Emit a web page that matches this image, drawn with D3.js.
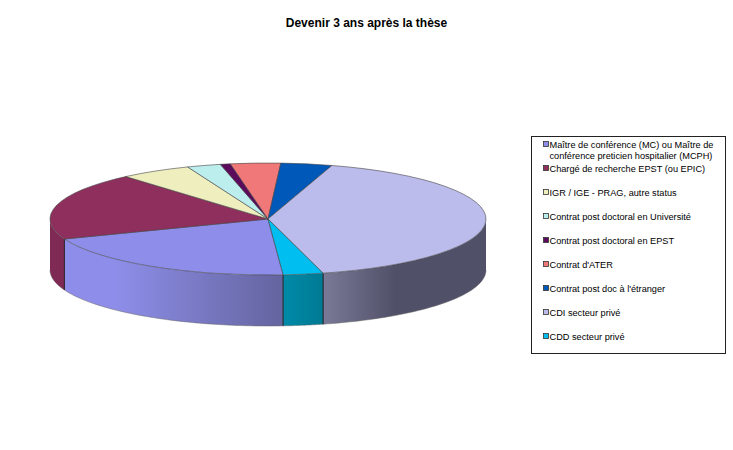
<!DOCTYPE html>
<html><head><meta charset="utf-8">
<script src="https://cdnjs.cloudflare.com/ajax/libs/d3/7.8.5/d3.min.js"></script>
<style>html,body{margin:0;padding:0;background:#fff}svg{display:block}text{font-family:"Liberation Sans",Arial,sans-serif;fill:#000}</style>
</head><body><svg id="c" width="733" height="450"></svg>
<script>
const chartTitle = "Devenir 3 ans après la thèse";
const categories = ["Maître de conférence (MC) ou Maître de\nconférence preticien hospitalier (MCPH)","Chargé de recherche EPST (ou EPIC)","IGR / IGE - PRAG, autre status","Contrat post doctoral en Université","Contrat post doctoral en EPST","Contrat d'ATER","Contrat post doc à l'étranger","CDI secteur privé","CDD secteur privé"];
const values = [20.3,19.5,5.3,2.5,0.75,3.7,3.8,41.2,2.95];
const colors = ["#8e8eea","#8e2f5e","#eeeebe","#bdeeee","#5c0a5c","#f07878","#0058b8","#bcbcec","#00bef0"];
const wallFrom = ["#8e8eea","#7e2a54","#d0d0a0","#a0d0d0","#500850","#d06060","#004a9c","#7a7a98","#008aa8"];
const wallTo   = ["#64649f","#7e2a54","#d0d0a0","#a0d0d0","#500850","#d06060","#004a9c","#505068","#007a94"];
const legendY = [145,169,193,217,241,265,289,313,337];

const cx=268, cy=219, rx=218, ry=56, depth=51;
const svg=d3.select("#c");
svg.append("text").attr("x",366.5).attr("y",27).attr("text-anchor","middle").attr("font-size",12).attr("font-weight","bold").text(chartTitle);

const start=176*Math.PI/180;
const arcs=d3.pie().sort(null).startAngle(start).endAngle(start+2*Math.PI)(values);
const px=a=>cx+rx*Math.sin(a), py=a=>cy-ry*Math.cos(a);
const defs=svg.append("defs");
const TAU=2*Math.PI;
// visible wall spans where cos(angle) < 0, i.e. angle in (pi/2, 3pi/2) modulo TAU
const walls=svg.append("g");
arcs.forEach((d,i)=>{
  const spans=[[Math.PI/2,3*Math.PI/2],[Math.PI/2+TAU,3*Math.PI/2+TAU]];
  spans.forEach((s,si)=>{
    const a0=Math.max(d.startAngle,s[0]), a1=Math.min(d.endAngle,s[1]);
    if(a1<=a0) return;
    const t=d3.range(0,61).map(k=>a0+(a1-a0)*k/60);
    const xs=t.map(px);
    const id="w"+i+"_"+si;
    const g=defs.append("linearGradient").attr("id",id).attr("gradientUnits","userSpaceOnUse")
      .attr("x1",i===7?d3.min(xs):d3.min(xs)+(i===0?50:0)).attr("x2",i===7?d3.min(xs)+72:d3.max(xs)).attr("y1",0).attr("y2",0);
    g.append("stop").attr("offset",0).attr("stop-color",wallFrom[i]);
    g.append("stop").attr("offset",1).attr("stop-color",wallTo[i]);
    const area=d3.area().x(a=>px(a)).y0(a=>py(a)).y1(a=>py(a)+depth);
    walls.append("path").attr("d",area(t)).attr("fill",`url(#${id})`);
    const line=d3.line().x(a=>px(a)).y(a=>py(a)+depth);
    walls.append("path").attr("d",line(t)).attr("fill","none").attr("stroke","#666").attr("stroke-width",0.5);
    [a0,a1].forEach(a=>{
      if(Math.abs(a-s[0])<1e-6||Math.abs(a-s[1])<1e-6) return;
      walls.append("line").attr("x1",px(a)).attr("x2",px(a)).attr("y1",py(a)).attr("y2",py(a)+depth).attr("stroke","#222").attr("stroke-width",0.8);
    });
  });
});
const arc=d3.arc().innerRadius(0).outerRadius(rx);
const pieTop=svg.append("g").attr("transform",`translate(${cx},${cy}) scale(1,${ry/rx})`);
pieTop.selectAll("path").data(arcs).join("path").attr("d",arc)
  .attr("fill",(d,i)=>colors[i]).attr("stroke","#444").attr("stroke-width",0.6).attr("vector-effect","non-scaling-stroke");

const leg=svg.append("g");
leg.append("rect").attr("x",531.5).attr("y",136.5).attr("width",194).attr("height",217).attr("fill","#fff").attr("stroke","#222").attr("stroke-width",1);
categories.forEach((c,i)=>{
  leg.append("rect").attr("x",543.5).attr("y",legendY[i]-3.5).attr("width",5).attr("height",5).attr("fill",colors[i]).attr("stroke","#333").attr("stroke-width",0.8);
  const t=leg.append("text").attr("font-size",9.2).attr("y",legendY[i]+3);
  c.split("\n").forEach((s,k)=>t.append("tspan").attr("x",549.5).attr("dy",k?11:0).text(s));
});
</script></body></html>
